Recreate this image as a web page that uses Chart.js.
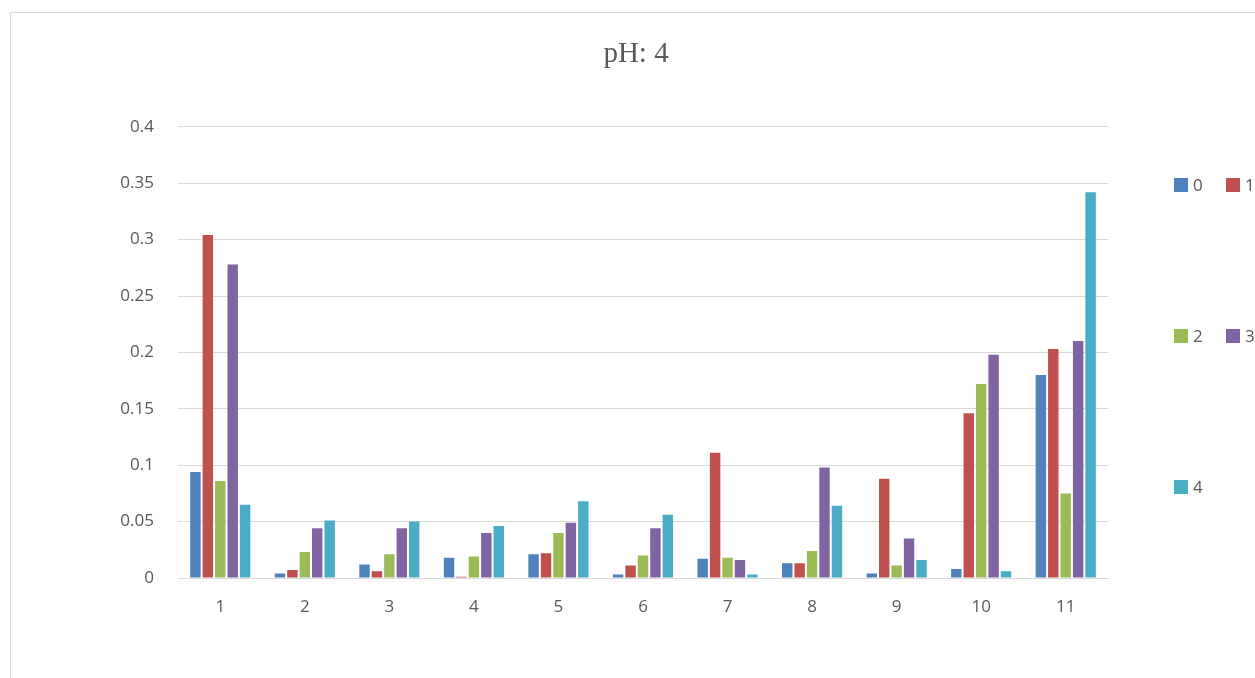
<!DOCTYPE html>
<html>
<head>
<meta charset="utf-8">
<script src="https://cdn.jsdelivr.net/npm/chart.js@4.4.1/dist/chart.umd.min.js"></script>
<style>
  html, body { margin: 0; padding: 0; background: #fff; }
  #wrap { position: absolute; left: 0; top: 0; width: 1255px; height: 678px; }
</style>
</head>
<body>
<div id="wrap"><canvas id="c" width="1255" height="678"></canvas></div>
<script>
const categories = ["1", "2", "3", "4", "5", "6", "7", "8", "9", "10", "11"];
const seriesNames = ["0", "1", "2", "3", "4"];
const series0 = [0.094, 0.004, 0.012, 0.018, 0.021, 0.003, 0.017, 0.013, 0.004, 0.008, 0.180];
const series1 = [0.304, 0.007, 0.006, 0.001, 0.022, 0.011, 0.111, 0.013, 0.088, 0.146, 0.203];
const series2 = [0.086, 0.023, 0.021, 0.019, 0.040, 0.020, 0.018, 0.024, 0.011, 0.172, 0.075];
const series3 = [0.278, 0.044, 0.044, 0.040, 0.049, 0.044, 0.016, 0.098, 0.035, 0.198, 0.210];
const series4 = [0.065, 0.051, 0.050, 0.046, 0.068, 0.056, 0.003, 0.064, 0.016, 0.006, 0.342];
const yTickLabels = ["0", "0.05", "0.1", "0.15", "0.2", "0.25", "0.3", "0.35", "0.4"];
const colors = ["#4F81BD", "#C0504D", "#9BBB59", "#8064A2", "#4BACC6"];
const titleText = "pH: 4";

const allSeries = [series0, series1, series2, series3, series4];
const datasets = allSeries.map((d, i) => ({
  label: seriesNames[i],
  data: d,
  backgroundColor: colors[i],
  borderWidth: 0,
  categoryPercentage: 0.735,
  barPercentage: 0.84
}));

const frameAndLegend = {
  id: 'frameAndLegend',
  beforeDraw(chart) {
    const ctx = chart.ctx;
    ctx.save();
    ctx.strokeStyle = '#d9d9d9';
    ctx.lineWidth = 1;
    ctx.beginPath();
    ctx.moveTo(10.5, 690);
    ctx.lineTo(10.5, 12.5);
    ctx.lineTo(1270, 12.5);
    ctx.stroke();
    ctx.restore();
  },
  afterDraw(chart) {
    const ctx = chart.ctx;
    ctx.save();
    ctx.font = '17px "Open Sans"';
    ctx.textBaseline = 'middle';
    ctx.textAlign = 'left';
    const pos = [[1174, 185], [1226, 185], [1174, 336], [1226, 336], [1174, 487]];
    chart.data.datasets.forEach((ds, i) => {
      const [x, y] = pos[i];
      ctx.fillStyle = ds.backgroundColor;
      ctx.fillRect(x, y - 7, 14, 14);
      ctx.fillStyle = '#595959';
      ctx.fillText(ds.label, x + 19, y + 1);
    });
    ctx.restore();
  }
};

new Chart(document.getElementById('c'), {
  type: 'bar',
  data: { labels: categories, datasets },
  options: {
    responsive: false,
    animation: false,
    layout: { padding: { left: 17, right: 0, top: 0, bottom: 0 } },
    plugins: {
      legend: { display: false },
      tooltip: { enabled: false },
      title: {
        display: true,
        text: titleText,
        color: '#595959',
        font: { family: '"Liberation Serif", serif', size: 29, weight: 'normal' },
        padding: { top: 37, bottom: 55 }
      }
    },
    scales: {
      x: {
        grid: { display: false, drawTicks: false },
        border: { display: true, color: '#d9d9d9', width: 1 },
        ticks: { color: '#595959', font: { family: '"Open Sans"', size: 17 }, padding: 19 },
        afterFit(scale) { scale.height = 100; }
      },
      y: {
        min: 0,
        max: 0.4,
        ticks: {
          stepSize: 0.05, color: '#595959', font: { family: '"Open Sans"', size: 17 }, padding: 24,
          callback: (v, i) => yTickLabels[i]
        },
        grid: { color: '#d9d9d9', lineWidth: 1, drawTicks: false },
        border: { display: false },
        afterFit(scale) { scale.width = 161; }
      },
      yRight: {
        position: 'right',
        display: true,
        ticks: { display: false },
        grid: { display: false, drawTicks: false },
        border: { display: false },
        afterFit(scale) { scale.width = 147; }
      }
    }
  },
  plugins: [frameAndLegend]
});
</script>
</body>
</html>
